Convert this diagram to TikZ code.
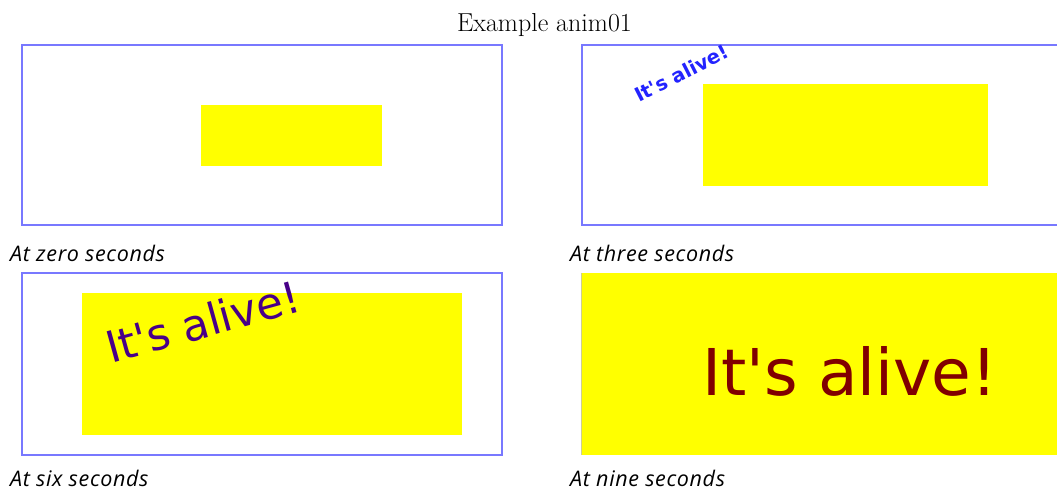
\documentclass[tikz,border=0pt]{standalone}
\usepackage{fontspec}
\newfontfamily\dejavu{DejaVu Sans}
\newfontfamily\capfont{Open Sans}[LetterSpace=3]
\begin{document}
\begin{tikzpicture}[x=1pt,y=-1pt]
\definecolor{framec}{RGB}{120,120,255}
\definecolor{yel}{RGB}{255,255,0}
\definecolor{alivetwo}{RGB}{35,35,255}
\definecolor{alivethree}{RGB}{72,0,136}
\definecolor{alivefour}{RGB}{128,0,0}
\definecolor{edgec}{RGB}{205,205,150}
\tikzset{
  panel/.style={draw=framec, line width=2pt, anchor=north west, inner sep=0pt, outer sep=0pt},
  ybox/.style={fill=yel, anchor=north west, inner sep=0pt, outer sep=0pt},
  caption/.style={anchor=base west, inner sep=0pt, font=\capfont\itshape\fontsize{21.5}{25}\selectfont},
  alive/.style={anchor=base west, inner sep=0pt, font=\dejavu}
}
\useasboundingbox (0,0) rectangle (1057,493);
\fill[white] (0,0) rectangle (1057,493);
% title
\node[anchor=base, inner sep=0pt, font=\fontsize{26}{30}\selectfont] (title) at (544.5,31) {Example anim01};
% panel 1
\node[panel, minimum width=480pt, minimum height=180pt] (p1) at (22,45) {};
\node[ybox, minimum width=181pt, minimum height=61pt] (y1) at (201,105) {};
\node[caption] (c1) at (10,261) {At zero seconds};
% panel 2
\coordinate (p2tr) at (1058,45);
\coordinate (p2tl) at (582,45);
\coordinate (p2bl) at (582,225);
\coordinate (p2br) at (1058,225);
\draw[draw=framec, line width=2pt] (p2tr) -- (p2tl) -- (p2bl) -- (p2br);
\node[ybox, minimum width=285pt, minimum height=102pt] (y2) at (703,84) {};
\node[alive, font=\dejavu\bfseries\fontsize{19.5}{22}\selectfont, text=alivetwo, rotate=27] (t2) at (639,103) {It's alive!};
\node[caption] (c2) at (570,261) {At three seconds};
% panel 3
\node[panel, minimum width=480pt, minimum height=182pt] (p3) at (22,273) {};
\node[ybox, minimum width=380pt, minimum height=142pt] (y3) at (82,293) {};
\node[alive, font=\dejavu\fontsize{43.5}{48}\selectfont, text=alivethree, rotate=15.5] (t3) at (111,364) {It's alive!};
\node[caption] (c3) at (10,486) {At six seconds};
% panel 4
\node[ybox, minimum width=477pt, minimum height=182pt] (y4) at (581,273) {};
\coordinate (e4t) at (581.5,273);
\coordinate (e4b) at (581.5,455);
\draw[edgec, line width=1pt] (e4t) -- (e4b);
\node[alive, font=\dejavu\fontsize{64.5}{70}\selectfont, text=alivefour] (t4) at (702,395) {It's alive!};
\node[caption] (c4) at (570,486) {At nine seconds};
\end{tikzpicture}
\end{document}
